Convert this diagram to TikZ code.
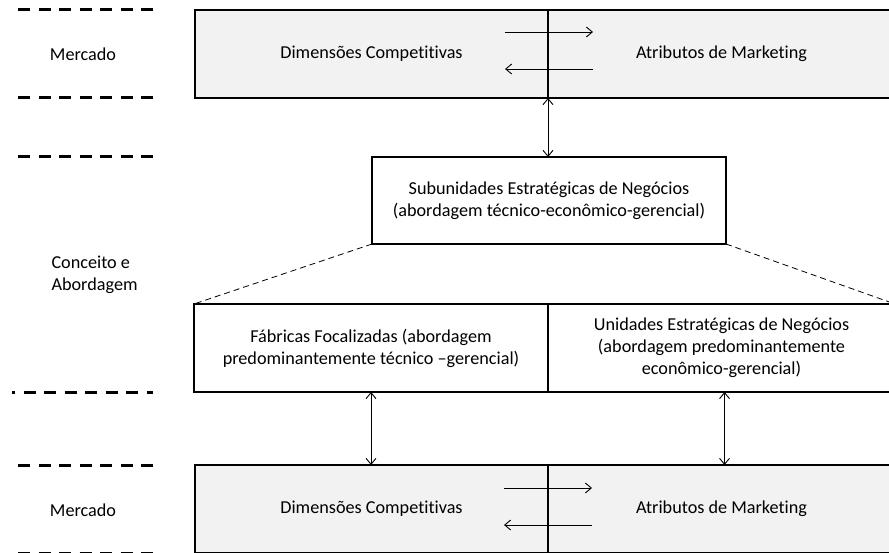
\documentclass[tikz,border=0pt]{standalone}
\usepackage{fontspec}
\setmainfont{Carlito}[Ligatures=NoCommon]
\usetikzlibrary{arrows.meta,calc}
\definecolor{panelfill}{HTML}{F2F2F2}
\begin{document}
\begin{tikzpicture}[x=1pt,y=-1pt,
  txt/.style={font=\fontsize{18.2}{22}\selectfont, align=center},
  panel/.style={txt, draw=black, line width=2.8pt, inner sep=0pt, outer sep=0pt},
  market/.style={panel, fill=panelfill},
  plain/.style={panel, fill=white},
  link/.style={line width=0.9pt, {Straight Barb[length=6pt,width=10pt]}-{Straight Barb[length=6pt,width=10pt]}},
  flow/.style={line width=0.9pt, -{Straight Barb[length=6pt,width=10pt]}},
  split/.style={line width=0.8pt, dash pattern=on 6pt off 4pt},
  tier/.style={line width=3pt, dash pattern=on 12pt off 8.5pt},
]
\useasboundingbox (0,0) rectangle (889,553);
\clip (0,0) rectangle (889,553);

% level separators on the left
\foreach \yy in {10,98,157,465,553}
  \draw[tier] (18,\yy) -- (153,\yy);
\draw[tier, dash phase=9pt] (12,392) -- (153,392);

% level labels
\node[txt] (mkTop) at (83,54) {Mercado};
\node[txt, align=left, anchor=west] (concept) at (48,275) {Conceito e\\Abordagem};
\node[txt] (mkBot) at (83,510) {Mercado};

% market panel (top)
\node[market, minimum width=353pt, minimum height=88pt] (dimTop) at (371.5,54) {Dimensões Competitivas};
\node[market, minimum width=347pt, minimum height=88pt] (atrTop) at (721.5,54) {Atributos de Marketing};

% strategic sub-units
\node[plain, minimum width=354pt, minimum height=87pt] (sub) at (549,200.5)
  {Subunidades Estratégicas de Negócios\\(abordagem técnico-econômico-gerencial)};

% focused factories / strategic business units
\node[plain, minimum width=354pt, minimum height=88pt] (ff) at (371,348)
  {Fábricas Focalizadas (abordagem\\predominantemente técnico –gerencial)};
\node[plain, minimum width=347pt, minimum height=88pt] (ue) at (721.5,348)
  {Unidades Estratégicas de Negócios\\(abordagem predominantemente\\econômico-gerencial)};

% market panel (bottom)
\node[market, minimum width=353pt, minimum height=88pt] (dimBot) at (371.5,509) {Dimensões Competitivas};
\node[market, minimum width=347pt, minimum height=88pt] (atrBot) at (721.5,509) {Atributos de Marketing};

% exchanges inside the market panels
\draw[flow] ($(dimTop.east)+(-43,-22)$) -- ($(atrTop.west)+(45,-22)$);
\draw[flow] ($(atrTop.west)+(45,15)$) -- ($(dimTop.east)+(-43,15)$);
\draw[flow] ($(dimBot.east)+(-44,-21)$) -- ($(atrBot.west)+(44,-21)$);
\draw[flow] ($(atrBot.west)+(44,16)$) -- ($(dimBot.east)+(-44,16)$);

% vertical links
\draw[link] (dimTop.south east) -- (dimTop.south east |- sub.north);
\draw[link] (ff.south) -- (ff.south |- dimBot.north);
\coordinate (ueFoot) at ($(ue.south)+(3,0)$);
\draw[link] (ueFoot) -- (ueFoot |- atrBot.north);

% decomposition of the sub-units
\draw[split] (sub.south west) -- (ff.north west);
\draw[split] (sub.south east) -- (ue.north east);
\end{tikzpicture}
\end{document}
